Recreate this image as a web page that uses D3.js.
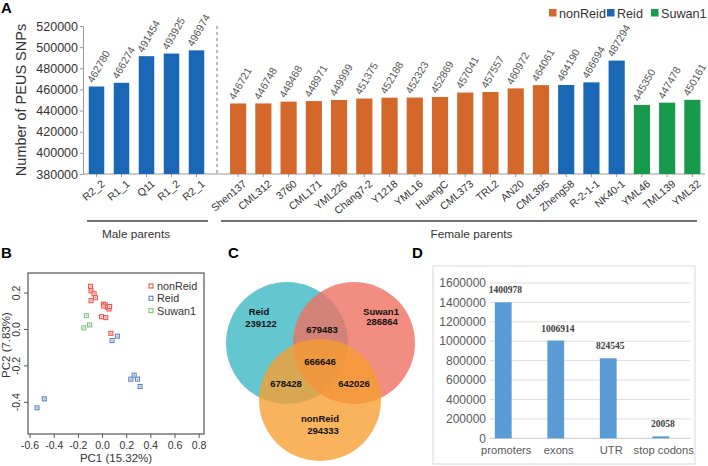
<!DOCTYPE html>
<html><head><meta charset="utf-8">
<script src="https://cdn.jsdelivr.net/npm/d3@7"></script>
<style>
html,body{margin:0;padding:0;background:#fff;}
svg{display:block;font-family:"Liberation Sans",Arial,sans-serif;}
</style></head>
<body><svg id="c" width="708" height="466"></svg>
<script>
// ---------- Panel A data ----------
const maleCats = ["R2_2","R1_1","Q11","R1_2","R2_1"];
const maleVals = [462780,466274,491454,493925,496974];
const femaleCats = ["Shen137","CML312","3760","CML171","YML226","Chang7-2","Y1218","YML16","HuangC","CML373","TRL2","AN20","CML395","Zheng58","R-2-1-1","NK40-1","YML46","TML139","YML32"];
const femaleVals = [446721,446748,448468,448971,449999,451375,452188,452323,452869,457041,457557,460972,464061,464190,466694,487294,445350,447478,450161];
const femaleGroups = ["nonReid","nonReid","nonReid","nonReid","nonReid","nonReid","nonReid","nonReid","nonReid","nonReid","nonReid","nonReid","nonReid","Reid","Reid","Reid","Suwan1","Suwan1","Suwan1"];
const groupNames = ["nonReid","Reid","Suwan1"];
const yTicksA = [380000,400000,420000,440000,460000,480000,500000,520000];

// ---------- Panel B data (PC1, PC2) ----------
const pcaNonReid = [[-0.099,0.237],[-0.095,0.212],[-0.070,0.196],[-0.059,0.174],[-0.095,0.158],[0.007,0.139],[0.024,0.135],[0.011,0.128],[0.040,0.122],[0.053,0.113],[0.059,0.126],[-0.008,0.070],[0.027,0.065],[0.069,-0.021]];
const pcaReid = [[0.123,-0.037],[0.079,-0.061],[0.262,-0.251],[0.234,-0.273],[0.289,-0.273],[0.311,-0.313],[-0.482,-0.381],[-0.542,-0.430]];
const pcaSuwan1 = [[-0.134,0.076],[-0.155,0.009],[-0.107,0.025]];
const pcaXTicks = [-0.6,-0.4,-0.2,0.0,0.2,0.4,0.6,0.8];
const pcaYTicks = [-0.4,-0.2,0.0,0.2];

// ---------- Panel C data ----------
const vennSets = ["Reid","Suwan1","nonReid"];
const vennOnly = [239122,286864,294333];
const vennPairs = [["Reid-Suwan1",679483],["Reid-nonReid",678428],["Suwan1-nonReid",642026]];
const vennAll = 666646;

// ---------- Panel D data ----------
const featCats = ["promoters","exons","UTR","stop codons"];
const featVals = [1400978,1006914,824545,20058];
const yTicksD = [0,200000,400000,600000,800000,1000000,1200000,1400000,1600000];

const svg = d3.select("#c");
const colA = {nonReid:"#d4672a", Reid:"#1a67b6", Suwan1:"#179a4c"};

// ================= Panel A =================
const yA = d3.scaleLinear().domain([380000,520000]).range([174,26]);
const xMale = d3.scaleBand().domain(maleCats).range([84,209]).paddingInner(0.38).paddingOuter(0.19);
const xFem = d3.scaleBand().domain(femaleCats).range([225.5,705]).paddingInner(0.36).paddingOuter(0.18);

svg.append("text").attr("x",1).attr("y",13).attr("font-size",15).attr("font-weight","bold").text("A");

const gA = svg.append("g");
const yAxA = gA.append("g").attr("transform","translate(83,0)")
  .call(d3.axisLeft(yA).tickValues(yTicksA).tickSize(3).tickPadding(2).tickFormat(d3.format("d")));
yAxA.select(".domain").attr("stroke","#999");
yAxA.selectAll(".tick line").attr("stroke","#999");
yAxA.selectAll("text").attr("font-size",12.5).attr("fill","#333").attr("font-family","Liberation Sans, Arial, sans-serif");
gA.append("text").attr("transform","translate(21,100) rotate(-90)").attr("text-anchor","middle")
  .attr("font-size",14.5).attr("fill","#333").attr("dy","0.35em").text("Number of PEUS SNPs");

gA.append("line").attr("x1",83).attr("x2",705).attr("y1",174).attr("y2",174).attr("stroke","#999");
gA.append("line").attr("x1",217).attr("x2",217).attr("y1",26).attr("y2",174).attr("stroke","#777").attr("stroke-dasharray","3,3");

function drawBars(cats, vals, groups, xs){
  cats.forEach((c,i)=>{
    const v = vals[i], g = groups[i];
    const x0 = xs(c), w = xs.bandwidth(), cx = x0 + w/2;
    gA.append("rect").attr("x",x0).attr("y",yA(v)).attr("width",w).attr("height",yA(380000)-yA(v)).attr("fill",colA[g]);
    gA.append("line").attr("x1",cx).attr("x2",cx).attr("y1",174).attr("y2",177).attr("stroke","#999");
    gA.append("text").attr("transform",`translate(${cx-3.5},${yA(v)-3}) rotate(-60)`)
      .attr("font-size",10.5).attr("fill","#555").text(v);
    gA.append("text").attr("transform",`translate(${cx+9},${185}) rotate(-40)`)
      .attr("text-anchor","end").attr("font-size",10.5).attr("fill","#333").text(c);
  });
}
drawBars(maleCats, maleVals, maleCats.map(()=>"Reid"), xMale);
drawBars(femaleCats, femaleVals, femaleGroups, xFem);

gA.append("line").attr("x1",87).attr("x2",208).attr("y1",221).attr("y2",221).attr("stroke","#444").attr("stroke-width",1.5);
gA.append("line").attr("x1",221).attr("x2",697).attr("y1",221).attr("y2",221).attr("stroke","#444").attr("stroke-width",1.5);
gA.append("text").attr("x",136).attr("y",237.5).attr("text-anchor","middle").attr("font-size",11.8).attr("fill","#333").text("Male parents");
gA.append("text").attr("x",471.5).attr("y",237.5).attr("text-anchor","middle").attr("font-size",11.8).attr("fill","#333").text("Female parents");

const legX = [549,607,651];
groupNames.forEach((g,i)=>{
  gA.append("rect").attr("x",legX[i]).attr("y",9).attr("width",7.5).attr("height",7.5).attr("fill",colA[g]);
  gA.append("text").attr("x",legX[i]+10).attr("y",17.5).attr("font-size",12.6).attr("fill","#333").text(g);
});

// ================= Panel B =================
const xB = d3.scaleLinear().domain([-0.617,0.84]).range([28,204]);
const yB = d3.scaleLinear().domain([-0.574,0.31]).range([434,273]);
const colB = {nonReid:"#e8554d", Reid:"#5d86c2", Suwan1:"#82c47c"};
svg.append("text").attr("x",1).attr("y",258).attr("font-size",15).attr("font-weight","bold").text("B");
const gB = svg.append("g");
gB.append("rect").attr("x",28).attr("y",273).attr("width",176).attr("height",161).attr("fill","none").attr("stroke","#555").attr("stroke-width",1.2);
pcaXTicks.forEach(t=>{
  gB.append("line").attr("x1",xB(t)).attr("x2",xB(t)).attr("y1",434).attr("y2",438).attr("stroke","#555");
  gB.append("text").attr("x",xB(t)).attr("y",449).attr("text-anchor","middle").attr("font-size",10.5).attr("fill","#333").text(t.toFixed(1));
});
pcaYTicks.forEach(t=>{
  gB.append("line").attr("x1",24).attr("x2",28).attr("y1",yB(t)).attr("y2",yB(t)).attr("stroke","#555");
  gB.append("text").attr("transform",`translate(20,${yB(t)}) rotate(-90)`).attr("text-anchor","middle").attr("font-size",10.5).attr("fill","#333").text(t.toFixed(1));
});
gB.append("text").attr("x",116).attr("y",462).attr("text-anchor","middle").attr("font-size",11.5).attr("fill","#333").text("PC1 (15.32%)");
gB.append("text").attr("transform","translate(10,345) rotate(-90)").attr("text-anchor","middle").attr("font-size",11.5).attr("fill","#333").text("PC2 (7.83%)");
function pts(data, col){
  data.forEach(d=>{
    const x = xB(d[0]), y = yB(d[1]);
    gB.append("rect").attr("x",x-2).attr("y",y-2).attr("width",4).attr("height",4).attr("fill","#fff").attr("stroke",col).attr("stroke-width",1.1);
    gB.append("rect").attr("x",x-0.8).attr("y",y-0.8).attr("width",1.6).attr("height",1.6).attr("fill",col).attr("opacity",0.7);
  });
}
pts(pcaNonReid, colB.nonReid);
pts(pcaReid, colB.Reid);
pts(pcaSuwan1, colB.Suwan1);
groupNames.forEach((g,i)=>{
  const y = 286 + i*12.3;
  gB.append("rect").attr("x",149).attr("y",y-2).attr("width",4).attr("height",4).attr("fill","#fff").attr("stroke",colB[g]).attr("stroke-width",1.1);
  gB.append("text").attr("x",157).attr("y",y+4).attr("font-size",10.8).attr("fill","#333").text(g);
});

// ================= Panel C =================
svg.append("text").attr("x",228).attr("y",258).attr("font-size",15).attr("font-weight","bold").text("C");
const gC = svg.append("g");
const vennLayout = {Reid:[287,343], Suwan1:[354,343], nonReid:[320,400]};
const vennFill = {Reid:["rgb(100,198,206)",1], Suwan1:["rgb(238,112,98)",0.8], nonReid:["rgb(247,158,48)",0.78]};
vennSets.forEach(s=>{
  gC.append("circle").attr("cx",vennLayout[s][0]).attr("cy",vennLayout[s][1]).attr("r",61)
    .attr("fill",vennFill[s][0]).attr("fill-opacity",vennFill[s][1]);
});
function vt(x,y,t){ gC.append("text").attr("x",x).attr("y",y).attr("text-anchor","middle").attr("font-size",9.5).attr("font-weight","bold").attr("fill","#111").text(t); }
vt(259,315,"Reid"); vt(261,327,vennOnly[0]);
vt(381,315,"Suwan1"); vt(382,325,vennOnly[1]);
vt(320,422,"nonReid"); vt(323,434,vennOnly[2]);
vt(322,333,vennPairs[0][1]);
vt(286,387,vennPairs[1][1]);
vt(354,387,vennPairs[2][1]);
vt(320,365,vennAll);

// ================= Panel D =================
svg.append("text").attr("x",412).attr("y",258).attr("font-size",15).attr("font-weight","bold").text("D");
const gD = svg.append("g");
gD.append("rect").attr("x",433).attr("y",266).attr("width",262).attr("height",198).attr("fill","#fff").attr("stroke","#d9d9d9");
const yD = d3.scaleLinear().domain([0,1600000]).range([438.3,283]);
const xD = d3.scaleBand().domain(featCats).range([477,687]).paddingInner(0.68).paddingOuter(0.34);
yTicksD.forEach(t=>{
  gD.append("line").attr("x1",490).attr("x2",690).attr("y1",yD(t)).attr("y2",yD(t)).attr("stroke",t===0?"#c8c8c8":"#dedede");
  gD.append("text").attr("x",486).attr("y",yD(t)).attr("dy","0.35em").attr("text-anchor","end").attr("font-size",12).attr("fill","#595959").text(t);
});
featCats.forEach((c,i)=>{
  const v = featVals[i];
  const x0 = xD(c), w = xD.bandwidth(), cx = x0 + w/2;
  gD.append("rect").attr("x",x0).attr("y",yD(v)).attr("width",w).attr("height",yD(0)-yD(v)).attr("fill","#5b9bd5");
  gD.append("text").attr("x",cx+2).attr("y",yD(v)-9).attr("text-anchor","middle").attr("font-size",9.5).attr("font-weight","bold")
    .attr("font-family","Liberation Serif, Times New Roman, serif").attr("fill","#404040").text(v);
  gD.append("text").attr("x",cx+3).attr("y",454).attr("text-anchor","middle").attr("font-size",11.2).attr("fill","#595959").text(c);
});
</script></body></html>
